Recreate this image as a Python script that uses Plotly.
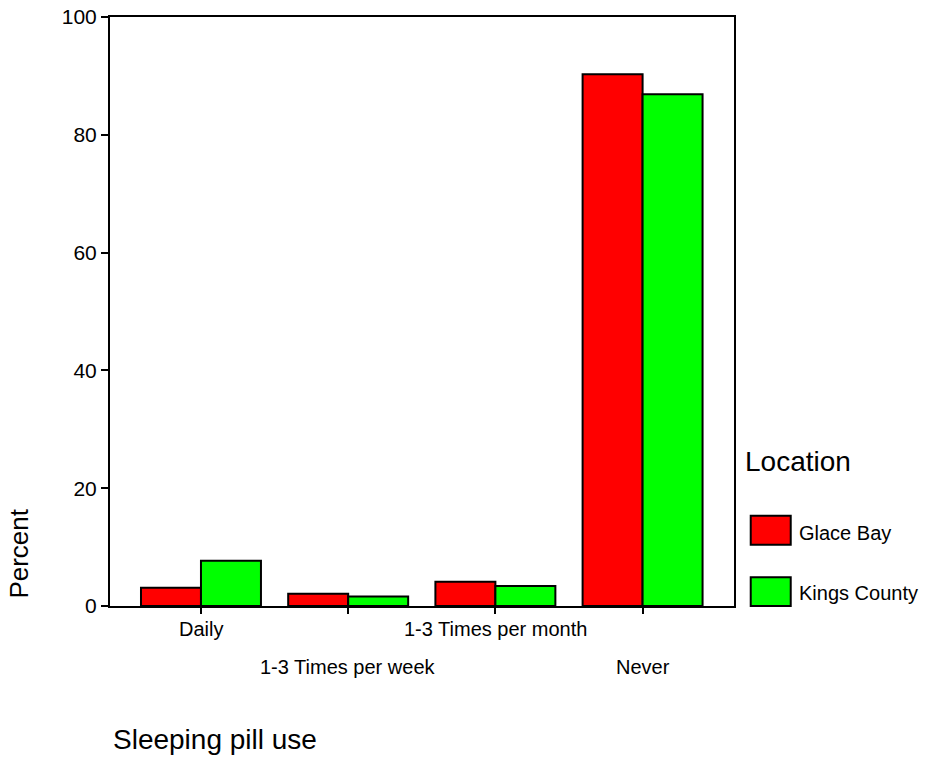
import plotly.graph_objects as go

categories = ["Daily", "1-3 Times per week", "1-3 Times per month", "Never"]
glace_bay = [3.1, 2.1, 4.1, 90.3]
kings_county = [7.7, 1.6, 3.4, 86.9]
series_names = ["Glace Bay", "Kings County"]
y_ticks = [0, 20, 40, 60, 80, 100]

FONT = "Liberation Sans, Arial, sans-serif"
RED = "#FF0000"
GREEN = "#00FF00"

fig = go.Figure()
fig.add_trace(go.Bar(x=categories, y=glace_bay, name=series_names[0],
                     marker=dict(color=RED, line=dict(color="black", width=2))))
fig.add_trace(go.Bar(x=categories, y=kings_county, name=series_names[1],
                     marker=dict(color=GREEN, line=dict(color="black", width=2))))

fig.update_layout(
    width=922, height=749,
    margin=dict(l=102, r=196, t=8.5, b=150.5, autoexpand=False),
    plot_bgcolor="white", paper_bgcolor="white",
    barmode="group", bargap=0.185, bargroupgap=0,
    showlegend=False,
    font=dict(family=FONT, color="black", size=20),
)
fig.update_xaxes(
    range=[-0.618, 3.621], showline=True, linecolor="black", linewidth=2, mirror=True,
    ticks="outside", ticklen=6, tickwidth=2, tickcolor="black",
    showticklabels=False, showgrid=False, zeroline=False, automargin=False,
)
fig.update_yaxes(
    range=[0, 100], showline=True, linecolor="black", linewidth=2, mirror=True,
    ticks="outside", ticklen=7, tickwidth=2, tickcolor="black",
    tickvals=y_ticks, tickfont=dict(size=21), showgrid=False, zeroline=False,
    automargin=False, ticklabeloverflow="allow",
)

# staggered category labels
for i, c in enumerate(categories):
    fig.add_annotation(x=c, xref="x", y=-0.0398 if i % 2 == 0 else -0.1042, yref="paper",
                       text=c, showarrow=False, xanchor="center", yanchor="middle",
                       font=dict(size=20))

# axis titles
fig.add_annotation(x=-0.1458, y=0.089, xref="paper", yref="paper", text="Percent",
                   textangle=-90, showarrow=False, xanchor="center", yanchor="middle",
                   font=dict(size=26))
fig.add_annotation(x=0.0016, y=-0.2263, xref="paper", yref="paper", text="Sleeping pill use",
                   showarrow=False, xanchor="left", yanchor="middle", font=dict(size=28))

# legend
fig.add_annotation(x=1.0144, y=0.2449, xref="paper", yref="paper", text="Location",
                   showarrow=False, xanchor="left", yanchor="middle", font=dict(size=28))
legend_rows = [(0.1042, 0.1534, 0.1246, RED), (0.0, 0.0488, 0.0229, GREEN)]
for name, (y0, y1, ty, col) in zip(series_names, legend_rows):
    fig.add_shape(type="rect", xref="paper", yref="paper", x0=1.0268, x1=1.0909,
                  y0=y0, y1=y1, fillcolor=col, line=dict(color="black", width=2))
    fig.add_annotation(x=1.1005, y=ty, xref="paper", yref="paper", text=name,
                       showarrow=False, xanchor="left", yanchor="middle", font=dict(size=20))

fig.write_html("out.html")
